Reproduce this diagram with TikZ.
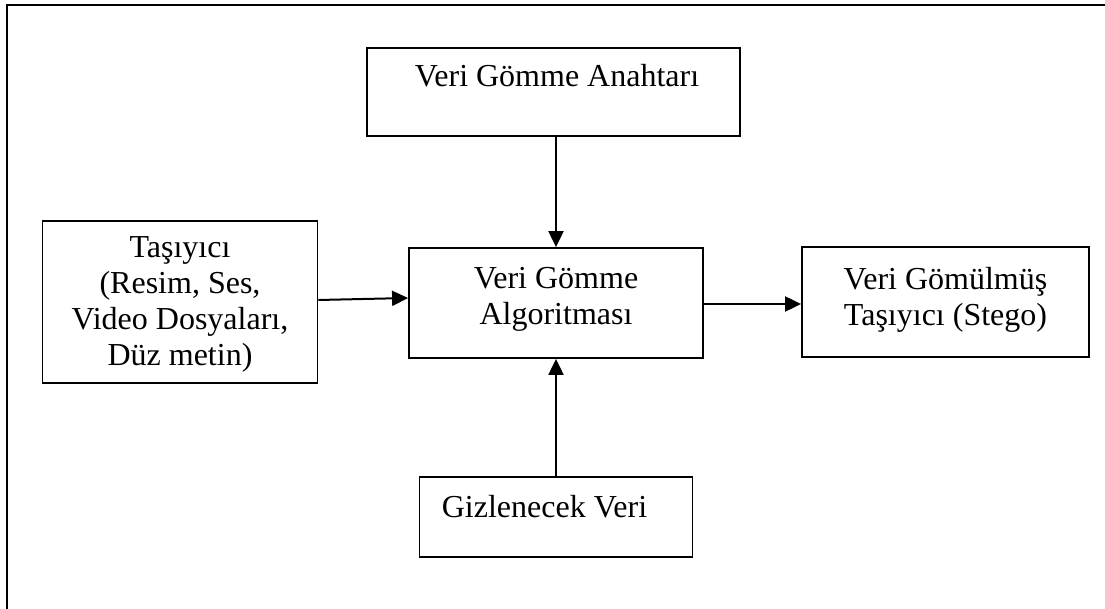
\documentclass[tikz,border=0pt]{standalone}
\usepackage{fontspec}
\setmainfont{Liberation Serif}
\usetikzlibrary{arrows.meta}
\begin{document}
\begin{tikzpicture}[x=0.5pt,y=-0.5pt]
        \tikzstyle{block}=[draw=black,line width=0.9pt,inner sep=0pt]
        \tikzstyle{txt}=[font=\fontsize{16}{18}\selectfont,align=center,inner sep=0pt,text depth=0pt]
        \tikzstyle{link}=[line width=1pt,-{Triangle[length=8pt,width=7.5pt]}]

        \useasboundingbox (0,0) rectangle (1105,609);
        \draw[line width=1pt] (7,609) -- (7,5) -- (1105,5);

        \node (key)[block,minimum width=186.5pt,minimum height=44pt] at (553.5,92) {};
        \node (carrier)[block,minimum width=137.5pt,minimum height=81pt] at (180,302) {};
        \node (algo)[block,minimum width=147pt,minimum height=55pt] at (556,303) {};
        \node (stego)[block,minimum width=143.5pt,minimum height=55pt] at (945.5,302) {};
        \node (secret)[block,minimum width=136.5pt,minimum height=40pt] at (556,516.7) {};

        \node (keytext)[txt,anchor=base] at (557,87) {Veri Gömme Anahtarı};
        \node (carriertext)[txt] at (180,301.5) {Taşıyıcı\\(Resim, Ses,\\Video Dosyaları,\\Düz metin)};
        \node (algotext)[txt] at (556,296) {Veri Gömme\\Algoritması};
        \node (stegotext)[txt] at (945.5,296.5) {Veri Gömülmüş\\Taşıyıcı (Stego)};
        \node (secrettext)[txt,anchor=base] at (544.5,518) {Gizlenecek Veri};

        \draw[link] (algo.north |- key.south) -- (algo.north);
        \draw[link] ([yshift=1pt]carrier.east) -- ([yshift=2.5pt]algo.west);
        \draw[link] ([yshift=-0.5pt]algo.east) -- ([yshift=-0.5pt]algo.east -| stego.west);
        \draw[link] (secret.north) -- (algo.south);
    \end{tikzpicture}
\end{document}
